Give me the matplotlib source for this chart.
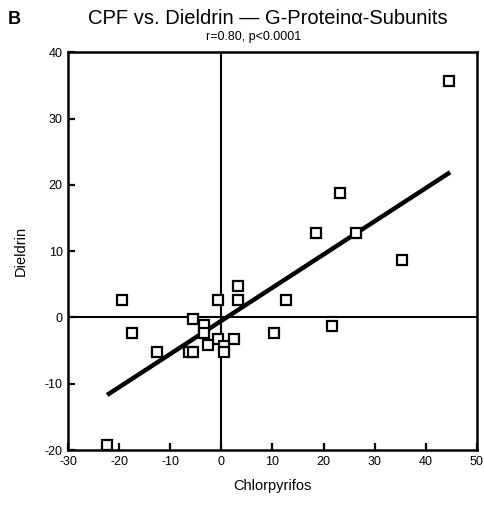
import matplotlib
matplotlib.use("Agg")
import matplotlib.pyplot as plt
import numpy as np

plt.rcParams['font.family'] = ['Liberation Sans', 'DejaVu Sans']
plt.rcParams['axes.unicode_minus'] = False

# Data
chlorpyrifos = [44.6, 23.2, 18.45, 26.3, 35.3, 12.6, 10.3, 21.6, 3.3, -0.75,
                3.3, -5.6, -3.4, -3.4, -0.75, 2.45, -2.6, 0.55, 0.55, -6.3,
                -5.5, -19.4, -17.6, -12.7, -22.5]
dieldrin = [35.6, 18.7, 12.7, 12.7, 8.7, 2.7, -2.3, -1.3, 4.7, 2.7,
            2.7, -0.3, -1.1, -2.4, -3.3, -3.3, -4.2, -4.3, -5.2, -5.2,
            -5.2, 2.7, -2.3, -5.2, -19.2]
fit_slope = 0.50
fit_intercept = -0.5
fit_x_range = [-22.4, 44.8]
x_ticks = [-30, -20, -10, 0, 10, 20, 30, 40, 50]
y_ticks = [-20, -10, 0, 10, 20, 30, 40]

fig = plt.figure(figsize=(4.85, 5.05), dpi=100)
ax = fig.add_axes([0.1408, 0.1089, 0.842, 0.7875])

ax.set_xlim(-30, 50)
ax.set_ylim(-20, 40)

# zero lines
ax.axvline(0, color='black', lw=1.5, zorder=1)
ax.axhline(0, color='black', lw=1.5, zorder=1)

# regression line
fx = np.array(fit_x_range)
ax.plot(fx, fit_slope * fx + fit_intercept, color='black', lw=3.2,
        solid_capstyle='butt', zorder=2)

ax.plot(chlorpyrifos, dieldrin, linestyle='none', marker='s', ms=6.5,
        mfc='white', mec='black', mew=1.6, zorder=3, clip_on=False)

ax.set_xticks(x_ticks)
ax.set_yticks(y_ticks)
ax.tick_params(direction='in', length=5, width=1.6, labelsize=9,
               top=False, right=False, pad=4)
for s in ax.spines.values():
    s.set_linewidth(1.8)

ax.set_xlabel('Chlorpyrifos', fontsize=10.5, labelpad=8)
ax.set_ylabel('Dieldrin', fontsize=10.5, labelpad=12)

fig.text(0.553, 0.953, 'CPF vs. Dieldrin — G-Protein\u03b1-Subunits',
         ha='center', va='baseline', fontsize=14.5)
fig.text(0.523, 0.921, 'r=0.80, p<0.0001', ha='center', va='baseline',
         fontsize=9)
fig.text(0.016, 0.953, 'B', ha='left', va='baseline', fontsize=13,
         fontweight='bold')

fig.savefig('out.png', dpi=100)
